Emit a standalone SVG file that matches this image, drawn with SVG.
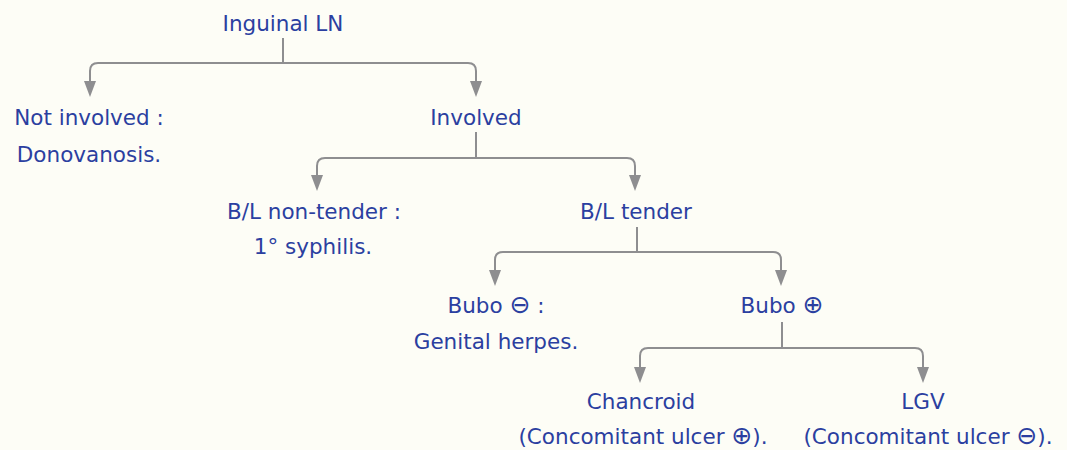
<svg xmlns="http://www.w3.org/2000/svg" width="1067" height="450" viewBox="0 0 1067 450">
<style>
.t{font-family:"DejaVu Sans","Liberation Sans",sans-serif;font-size:21.5px;fill:#2b3fa0;text-anchor:middle}
.s{font-size:25px}
.c{fill:none;stroke:#8e8e90;stroke-width:2}
.a{fill:#8e8e90}
</style>
<rect width="1067" height="450" fill="#fdfdf6"/>
<g id="connectors">
<path class="c" d="M283,38 V63"/>
<path class="c" d="M90,84 V71 Q90,63 98,63 H468 Q476,63 476,71 V84"/>
<path class="c" d="M476,132 V158"/>
<path class="c" d="M317,178 V166 Q317,158 325,158 H627 Q635,158 635,166 V178"/>
<path class="c" d="M637,227 V252"/>
<path class="c" d="M495,273 V260 Q495,252 503,252 H773 Q781,252 781,260 V273"/>
<path class="c" d="M782,322 V348"/>
<path class="c" d="M640,370 V356 Q640,348 648,348 H915 Q923,348 923,356 V370"/>
<path class="a" d="M84,81 L96,81 L90,97 Z"/>
<path class="a" d="M470,81 L482,81 L476,97 Z"/>
<path class="a" d="M311,175 L323,175 L317,191 Z"/>
<path class="a" d="M629,175 L641,175 L635,191 Z"/>
<path class="a" d="M489,270 L501,270 L495,286 Z"/>
<path class="a" d="M775,270 L787,270 L781,286 Z"/>
<path class="a" d="M634,367 L646,367 L640,383 Z"/>
<path class="a" d="M917,367 L929,367 L923,383 Z"/>
</g>
<g id="inguinal"><text class="t" x="283" y="31">Inguinal LN</text></g>
<g id="not-involved"><text class="t" x="89" y="125">Not involved :</text><text class="t" x="89" y="162">Donovanosis.</text></g>
<g id="involved"><text class="t" x="476" y="125">Involved</text></g>
<g id="bl-non-tender"><text class="t" x="314" y="219">B/L non-tender :</text><text class="t" x="313" y="254">1° syphilis.</text></g>
<g id="bl-tender"><text class="t" x="636" y="219">B/L tender</text></g>
<g id="bubo-neg"><text class="t" x="496" y="313">Bubo <tspan class="s">⊖</tspan> :</text><text class="t" x="496" y="349">Genital herpes.</text></g>
<g id="bubo-pos"><text class="t" x="782" y="313">Bubo <tspan class="s">⊕</tspan></text></g>
<g id="chancroid"><text class="t" x="641" y="409">Chancroid</text><text class="t" x="643" y="444">(Concomitant ulcer <tspan class="s">⊕</tspan>).</text></g>
<g id="lgv"><text class="t" x="923" y="409">LGV</text><text class="t" x="928" y="444">(Concomitant ulcer <tspan class="s">⊖</tspan>).</text></g>
</svg>
